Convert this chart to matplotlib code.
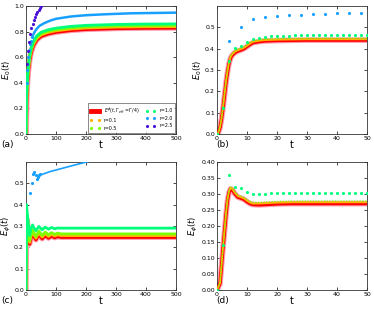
import numpy as np
import matplotlib
matplotlib.use("Agg")
import matplotlib.pyplot as plt

# ============================================================
# DATA
# ============================================================
# colours per series
C_RED = '#ff0000'
C_HALO = '#ff9aaa'
C_R01 = '#ffb400'
C_R05 = '#7cff00'
C_R10 = '#00ff7a'
C_R20 = '#18a0ff'
C_R25 = '#4a10d8'

# ---- panel (a): E_0(t), t = 0..500
t_a = [0, 2, 5, 8, 12, 17, 24, 35, 50, 75, 100, 150, 200, 300, 400, 500]
a_red = [0.0, 0.28, 0.42, 0.50, 0.58, 0.64, 0.69, 0.735, 0.765, 0.785, 0.797, 0.811, 0.819, 0.826, 0.829, 0.830]
a_r01 = [0.0, 0.29, 0.43, 0.51, 0.59, 0.65, 0.70, 0.745, 0.775, 0.795, 0.807, 0.821, 0.829, 0.836, 0.839, 0.840]
a_r05 = [0.0, 0.30, 0.44, 0.52, 0.60, 0.66, 0.71, 0.755, 0.785, 0.805, 0.817, 0.831, 0.839, 0.846, 0.849, 0.850]
a_r10 = [0.0, 0.31, 0.45, 0.53, 0.61, 0.67, 0.72, 0.765, 0.795, 0.815, 0.827, 0.841, 0.849, 0.856, 0.859, 0.860]
t_a_r20_dots = [2, 4, 7, 10, 13, 16, 21]
a_r20_dots = [0.40, 0.50, 0.60, 0.66, 0.70, 0.73, 0.76]
t_a_r20 = [21, 27, 35, 45, 60, 80, 100, 150, 200, 260, 350, 500]
a_r20 = [0.76, 0.79, 0.82, 0.845, 0.865, 0.885, 0.90, 0.918, 0.928, 0.935, 0.943, 0.948]
t_a_r25 = [2, 6, 10, 14, 18, 22, 26, 30, 34, 38, 42, 46, 50]
a_r25 = [0.55, 0.65, 0.72, 0.78, 0.83, 0.86, 0.89, 0.915, 0.935, 0.955, 0.97, 0.985, 1.0]

# ---- panel (b): E_0(t), t = 0..50
t_b = [0, 0.5, 1, 1.5, 2, 2.5, 3, 3.5, 4, 4.5, 5, 6, 7, 8, 9, 10, 11, 12, 14, 16, 20, 30, 40, 50]
b_red = [0, 0.008, 0.03, 0.07, 0.12, 0.18, 0.24, 0.29, 0.33, 0.355, 0.368, 0.382, 0.389, 0.394,
         0.40, 0.41, 0.42, 0.428, 0.433, 0.436, 0.438, 0.44, 0.44, 0.44]
b_r01 = [0, 0.009, 0.032, 0.073, 0.124, 0.185, 0.245, 0.295, 0.335, 0.36, 0.372, 0.386, 0.393, 0.398,
         0.404, 0.414, 0.424, 0.432, 0.437, 0.44, 0.442, 0.444, 0.444, 0.444]
b_r05 = [0, 0.01, 0.034, 0.076, 0.128, 0.19, 0.25, 0.30, 0.34, 0.365, 0.377, 0.391, 0.398, 0.403,
         0.409, 0.419, 0.429, 0.437, 0.442, 0.445, 0.447, 0.449, 0.449, 0.449]
t_b_r10 = [0, 2, 4, 6, 8, 10, 12, 14, 16, 18, 20, 22, 24, 26, 28, 30, 32, 34, 36, 38, 40, 42, 44, 46, 48, 50]
b_r10 = [0, 0.12, 0.34, 0.405, 0.414, 0.433, 0.445, 0.451, 0.455, 0.458, 0.46, 0.461, 0.461, 0.462,
         0.462, 0.462, 0.462, 0.463, 0.463, 0.463, 0.463, 0.463, 0.463, 0.463, 0.463, 0.463]
t_b_r20 = [4, 8, 12, 16, 20, 24, 28, 32, 36, 40, 44, 48]
b_r20 = [0.436, 0.50, 0.538, 0.547, 0.555, 0.558, 0.56, 0.562, 0.563, 0.565, 0.566, 0.568]

# ---- panel (c): E_phi(t), t = 0..500
t_c = [0, 2, 4, 7, 12, 17, 22, 27, 33, 38, 43, 48, 54, 59, 64, 69, 75, 80, 85, 90,
       96, 101, 106, 112, 120, 500]
c_red = [0.0, 0.25, 0.33, 0.29, 0.215, 0.245, 0.265, 0.25, 0.235, 0.248, 0.26, 0.25, 0.24, 0.248,
         0.256, 0.25, 0.243, 0.248, 0.253, 0.249, 0.245, 0.248, 0.251, 0.248, 0.247, 0.247]
c_r01 = [0.0, 0.26, 0.34, 0.30, 0.223, 0.253, 0.273, 0.258, 0.243, 0.256, 0.268, 0.258, 0.248, 0.256,
         0.264, 0.258, 0.251, 0.256, 0.261, 0.257, 0.253, 0.256, 0.259, 0.256, 0.255, 0.255]
c_r05 = [0.0, 0.27, 0.35, 0.31, 0.231, 0.261, 0.281, 0.266, 0.251, 0.264, 0.276, 0.266, 0.256, 0.264,
         0.272, 0.266, 0.259, 0.264, 0.269, 0.265, 0.261, 0.264, 0.267, 0.264, 0.263, 0.263]
c_r10 = [0.0, 0.40, 0.36, 0.32, 0.255, 0.29, 0.305, 0.29, 0.278, 0.288, 0.298, 0.29, 0.282, 0.289,
         0.295, 0.29, 0.285, 0.289, 0.293, 0.29, 0.287, 0.289, 0.291, 0.29, 0.29, 0.29]
t_c_r20_dots = [13, 19, 24, 28, 32, 36, 40, 44, 48]
c_r20_dots = [0.456, 0.50, 0.545, 0.555, 0.54, 0.52, 0.53, 0.54, 0.545]
t_c_r20 = [50, 80, 120, 160, 210]
c_r20 = [0.54, 0.555, 0.57, 0.585, 0.603]

# ---- panel (d): E_phi(t), t = 0..50
t_d = [0, 1, 2, 3, 3.5, 4, 4.5, 5, 6, 7, 8, 9, 10, 11, 12, 14, 16, 18, 20, 25, 30, 40, 50]
d_red = [0, 0.02, 0.13, 0.235, 0.28, 0.305, 0.316, 0.314, 0.30, 0.29, 0.287, 0.283, 0.276, 0.27,
         0.267, 0.266, 0.267, 0.268, 0.269, 0.27, 0.27, 0.27, 0.27]
d_r01 = [0, 0.021, 0.132, 0.238, 0.283, 0.308, 0.319, 0.317, 0.303, 0.293, 0.29, 0.286, 0.279, 0.273,
         0.27, 0.27, 0.271, 0.272, 0.273, 0.274, 0.274, 0.274, 0.274]
d_r05 = [0, 0.022, 0.135, 0.24, 0.286, 0.311, 0.322, 0.32, 0.306, 0.296, 0.293, 0.29, 0.283, 0.277,
         0.274, 0.274, 0.275, 0.276, 0.277, 0.278, 0.278, 0.278, 0.278]
t_d_r10 = [0, 2, 4, 6, 8, 10, 12, 14, 16, 18, 20, 22, 24, 26, 28, 30, 32, 34, 36, 38, 40, 42, 44, 46, 48, 50]
d_r10 = [0, 0.14, 0.358, 0.322, 0.32, 0.306, 0.299, 0.299, 0.30, 0.303, 0.304, 0.304, 0.304, 0.304,
         0.304, 0.304, 0.304, 0.304, 0.304, 0.304, 0.303, 0.303, 0.303, 0.303, 0.303, 0.303]

# ============================================================
# PLOT
# ============================================================
plt.rcParams['font.family'] = 'DejaVu Sans'
plt.rcParams['mathtext.fontset'] = 'dejavusans'

fig = plt.figure(figsize=(3.74, 3.12), dpi=100)
W, H = 374.0, 312.0


def make_ax(x0, y0, x1, y1):
    # pixel box -> figure fractions
    return fig.add_axes([x0 / W, 1 - y1 / H, (x1 - x0) / W, (y1 - y0) / H])


def style(ax, ylabel):
    ax.tick_params(direction='in', top=True, right=True, length=2.5, width=0.5,
                   labelsize=4.5, pad=1.5)
    for s in ax.spines.values():
        s.set_linewidth(0.6)
        s.set_color('#333333')
    ax.set_xlabel('t', fontsize=7, labelpad=-1)
    ax.set_ylabel(ylabel, fontsize=6, labelpad=1)


def band(ax, t, red, r01, r05, lw=2.4):
    ax.plot(t, red, color=C_HALO, lw=lw + 1.6, solid_capstyle='round', zorder=2)
    h, = ax.plot(t, red, color=C_RED, lw=lw, zorder=3)
    ax.plot(t, r01, color=C_R01, lw=1.3, zorder=4)
    ax.plot(t, r05, color=C_R05, lw=0.9, ls=(0, (1, 1.2)), zorder=5)
    return h


ax_a = make_ax(26, 6, 176, 134)
ax_b = make_ax(217, 6, 367, 134)
ax_c = make_ax(26, 162, 176, 290)
ax_d = make_ax(217, 162, 367, 290)

# (a)
ax_a.plot(t_a, a_red, color=C_HALO, lw=4.2, zorder=2)
h_red, = ax_a.plot(t_a, a_red, color=C_RED, lw=2.6, zorder=3)
ax_a.plot(t_a, a_r01, color=C_R01, lw=2.2, zorder=4)
ax_a.plot(t_a, a_r05, color=C_R05, lw=2.2, zorder=5)
ax_a.plot(t_a, a_r10, color=C_R10, lw=2.0, zorder=6)
ax_a.plot(t_a_r20, a_r20, color=C_R20, lw=1.8, zorder=6)
ax_a.plot(t_a_r20_dots, a_r20_dots, '.', color=C_R20, ms=2.5, zorder=6)
ax_a.plot(t_a_r25, a_r25, '.', color=C_R25, ms=2.5, zorder=7)
ax_a.set_xlim(0, 500)
ax_a.set_ylim(0, 1.0)
ax_a.set_xticks([0, 100, 200, 300, 400, 500])
ax_a.set_yticks([0.0, 0.2, 0.4, 0.6, 0.8, 1.0])
style(ax_a, r'$E_0(t)$')

# legend proxies
p01, = ax_a.plot([], [], '.', color=C_R01, ms=2.5)
p05, = ax_a.plot([], [], '.', color=C_R05, ms=2.5)
p10, = ax_a.plot([], [], '.', color=C_R10, ms=2.5)
p20, = ax_a.plot([], [], '.', color=C_R20, ms=2.5)
p25, = ax_a.plot([], [], '.', color=C_R25, ms=2.5)
pred, = ax_a.plot([], [], color=C_RED, lw=3.5)
leg = ax_a.legend([pred, p01, p05, p10, p20, p25],
                  [r'$E^{\phi}(t,\Gamma_{eff}=\Gamma/4)$', 'r=0.1', 'r=0.5', 'r=1.0', 'r=2.0', 'r=2.5'],
                  loc='lower right', ncol=2, fontsize=3.4, numpoints=2, frameon=True,
                  fancybox=False, borderpad=0.4, handlelength=2.2, columnspacing=1.2,
                  labelspacing=0.55, borderaxespad=0.3)
leg.get_frame().set_edgecolor('#333333')
leg.get_frame().set_linewidth(0.5)

# (b)
band(ax_b, t_b, b_red, b_r01, b_r05)
ax_b.plot(t_b_r10, b_r10, '.', color=C_R10, ms=2.5, zorder=6)
ax_b.plot(t_b_r20, b_r20, '.', color=C_R20, ms=2.5, zorder=6)
ax_b.set_xlim(0, 50)
ax_b.set_ylim(0, 0.6)
ax_b.set_xticks([0, 10, 20, 30, 40, 50])
ax_b.set_yticks([0.0, 0.1, 0.2, 0.3, 0.4, 0.5])
style(ax_b, r'$E_0(t)$')

# (c)
ax_c.plot(t_c, c_red, color=C_HALO, lw=3.8, zorder=2)
ax_c.plot(t_c, c_red, color=C_RED, lw=2.2, zorder=3)
ax_c.plot(t_c, c_r01, color=C_R01, lw=2.0, zorder=4)
ax_c.plot(t_c, c_r05, color=C_R05, lw=2.0, zorder=5)
ax_c.plot(t_c, c_r10, color=C_R10, lw=2.0, zorder=6)
ax_c.plot(t_c_r20_dots, c_r20_dots, '.', color=C_R20, ms=2.5, zorder=6)
ax_c.plot(t_c_r20, c_r20, color=C_R20, lw=1.2, zorder=6)
ax_c.set_xlim(0, 500)
ax_c.set_ylim(0, 0.6)
ax_c.set_xticks([0, 100, 200, 300, 400, 500])
ax_c.set_yticks([0.0, 0.1, 0.2, 0.3, 0.4, 0.5])
style(ax_c, r'$E_\phi(t)$')

# (d)
band(ax_d, t_d, d_red, d_r01, d_r05)
ax_d.plot(t_d_r10, d_r10, '.', color=C_R10, ms=2.5, zorder=6)
ax_d.set_xlim(0, 50)
ax_d.set_ylim(0, 0.40)
ax_d.set_xticks([0, 10, 20, 30, 40, 50])
ax_d.set_yticks([0.0, 0.05, 0.10, 0.15, 0.20, 0.25, 0.30, 0.35, 0.40])
ax_d.yaxis.set_major_formatter(matplotlib.ticker.FormatStrFormatter('%.2f'))
style(ax_d, r'$E_\phi(t)$')

# panel labels
for x, y, s in [(1, 145, '(a)'), (216, 145, '(b)'), (1, 301, '(c)'), (216, 301, '(d)')]:
    fig.text(x / W, 1 - y / H, s, fontsize=6.5, va='center', ha='left')

fig.savefig('out.png', dpi=100)
